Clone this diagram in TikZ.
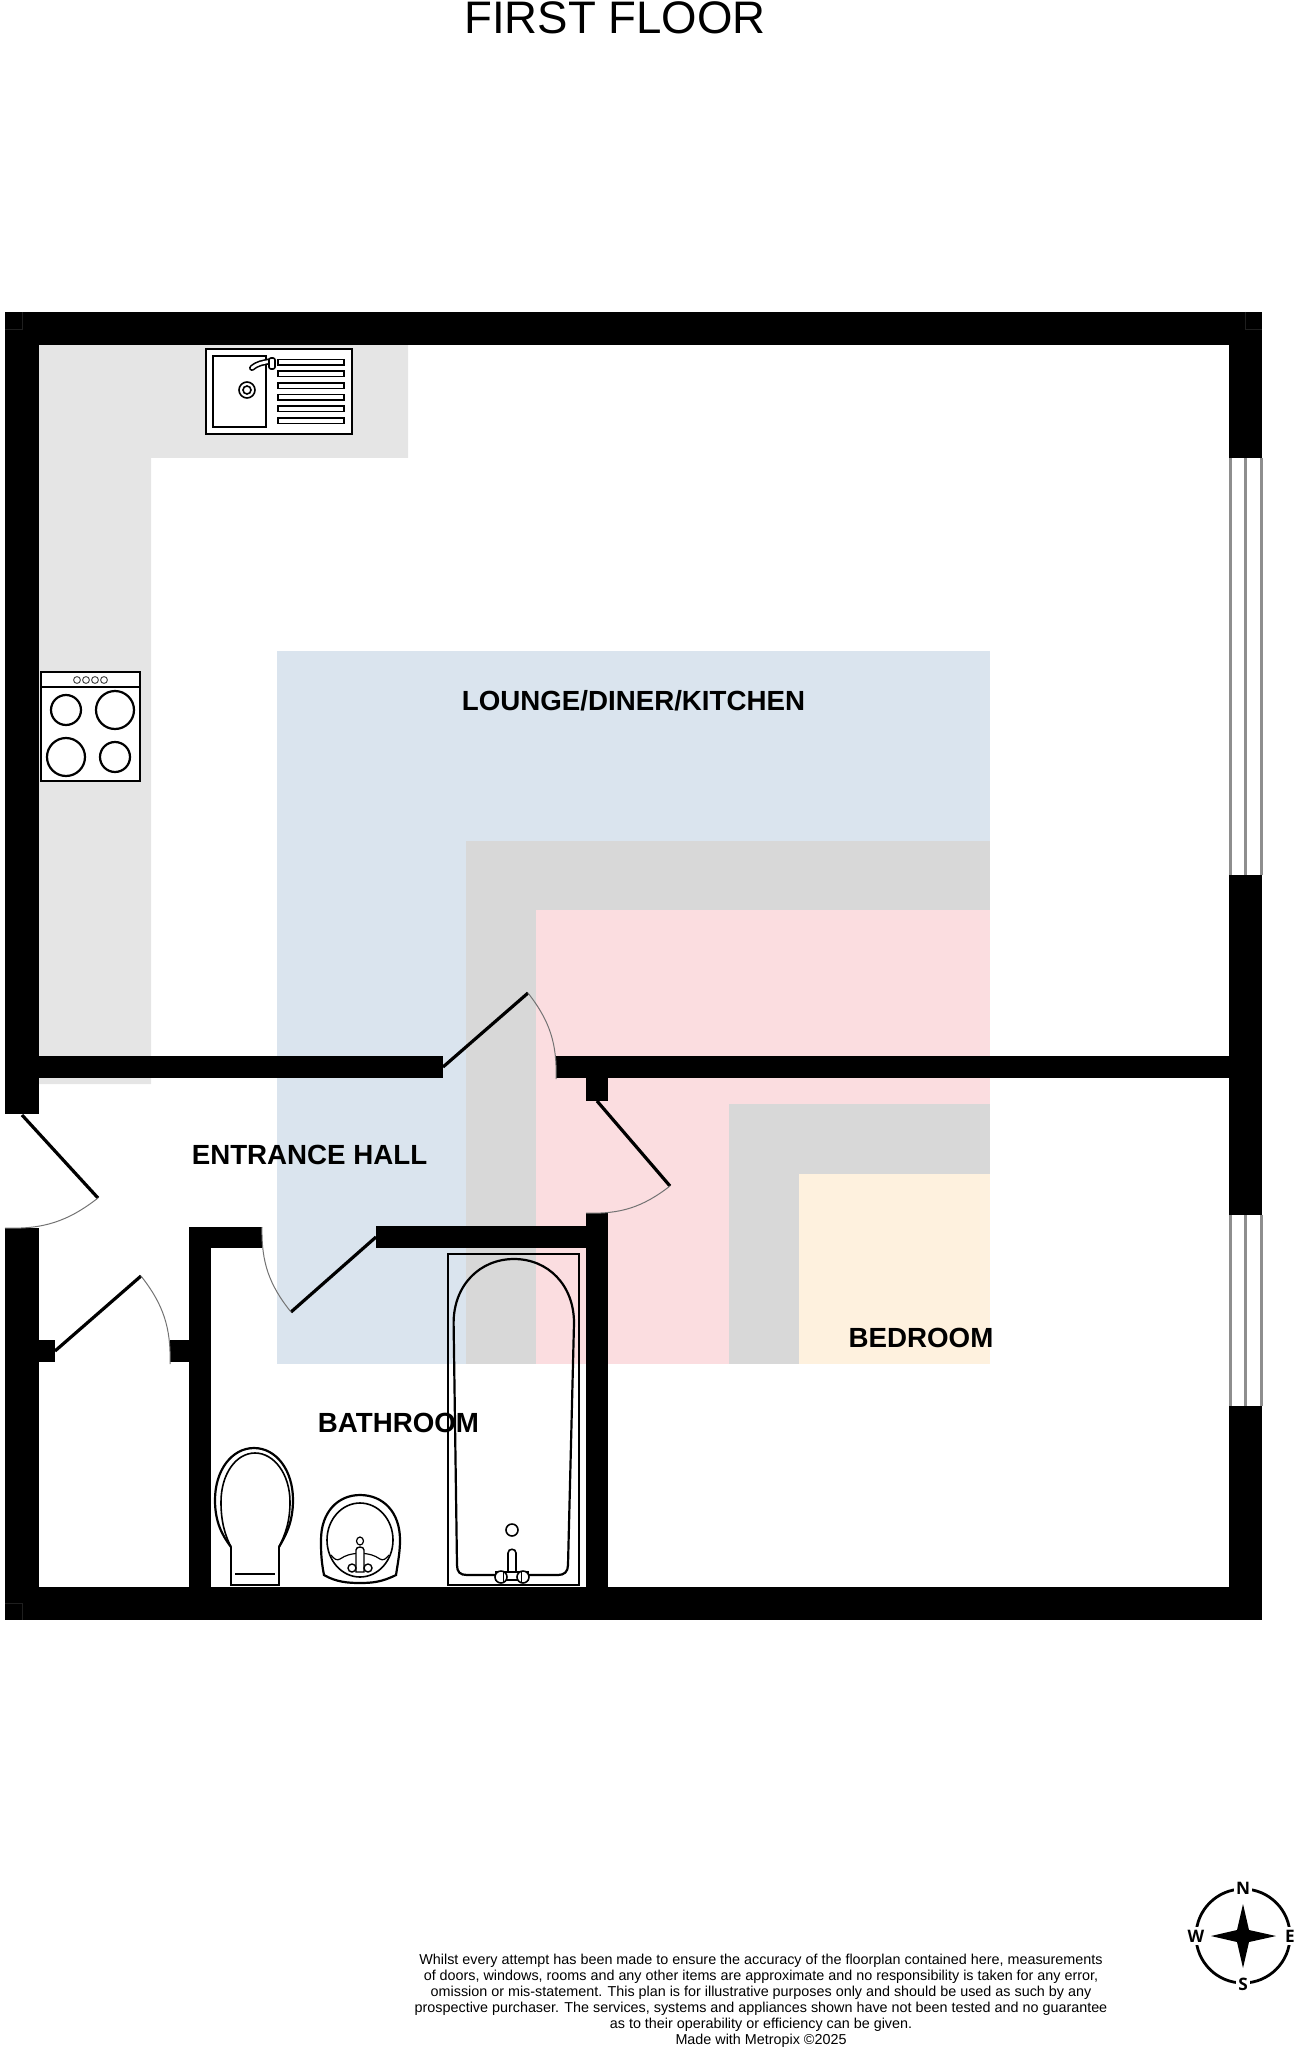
\documentclass[tikz,border=0pt]{standalone}
\usepackage{fontspec}
\setmainfont{Liberation Sans}
\newfontfamily\compassfont{Open Sans}
\definecolor{counter}{HTML}{E5E5E5}
\definecolor{bandblue}{HTML}{DAE4EE}
\definecolor{bandgrey}{HTML}{D8D8D8}
\definecolor{bandpink}{HTML}{FBDDE0}
\definecolor{bandcream}{HTML}{FEF1DE}
\definecolor{glass}{HTML}{8E8E8E}
\tikzset{
  wall/.style={fill=black,draw=none},
  leaf/.style={line width=1.6pt,black},
  swing/.style={line width=0.5pt,color=black!55},
  seam/.style={line width=0.3pt,color=black!88!white},
  fixture/.style={line width=1.1pt,black},
  thinfix/.style={line width=0.8pt,black},
  roomlabel/.style={font=\bfseries\fontsize{13.85}{16}\selectfont,inner sep=0pt,black},
  compassletter/.style={font=\compassfont\bfseries\fontsize{8.6}{10}\selectfont,inner sep=1.2pt,fill=white,text=black}
}
\newcommand{\doorleaf}[4]{%
  \draw[leaf] #1 -- #2;
  \draw[swing] #2 to[bend #4] #3;
}
\begin{document}
\begin{tikzpicture}[x=0.5pt,y=-0.5pt]
\useasboundingbox (0,0) rectangle (1297,2048);
% colour bands
\fill[counter] (39,345) -- (408,345) -- (408,458) -- (151,458) -- (151,1084) -- (39,1084) -- cycle;
\fill[bandblue] (277,651) rectangle (990,1364);
\fill[bandgrey] (466,841) rectangle (990,1364);
\fill[bandpink] (536,910) rectangle (990,1364);
\fill[bandgrey] (729,1104) rectangle (990,1364);
\fill[bandcream] (799,1174) rectangle (990,1364);
% windows
\foreach \wy/\wz in {458/875,1215/1406}{
  \foreach \wx in {1230,1245.5,1261}{
    \draw[glass,line width=1.5pt] (\wx,\wy) -- (\wx,\wz);
  }
}
% walls
\fill[wall] (5,312) rectangle (1262,345);
\fill[wall] (5,1587) rectangle (1262,1620);
\fill[wall] (5,312) rectangle (39,1114);
\fill[wall] (5,1228) rectangle (39,1620);
\fill[wall] (1229,312) rectangle (1262,458);
\fill[wall] (1229,875) rectangle (1262,1215);
\fill[wall] (1229,1406) rectangle (1262,1620);
\fill[wall] (39,1056) rectangle (443,1078);
\fill[wall] (556,1056) rectangle (1229,1078);
\fill[wall] (586,1078) rectangle (608,1101);
\fill[wall] (586,1213) rectangle (608,1620);
\fill[wall] (376,1226) rectangle (586,1248);
\fill[wall] (189,1227) rectangle (262,1248);
\fill[wall] (189,1227) rectangle (211,1620);
\fill[wall] (39,1340) rectangle (55,1362);
\fill[wall] (170,1340) rectangle (189,1362);
\draw[seam] (5,329) -- (22,329) -- (22,312);
\draw[seam] (1245,312) -- (1245,329) -- (1262,329);
\draw[seam] (5,1603) -- (22,1603) -- (22,1620);
% doors
\doorleaf{(22,1115)}{(98,1198)}{(5,1228)}{left=20}
\doorleaf{(55,1351)}{(141,1276)}{(170,1364)}{left=20}
\doorleaf{(376,1237)}{(291,1312)}{(262,1227)}{left=20}
\doorleaf{(443,1067)}{(528,993)}{(556,1079)}{left=20}
\doorleaf{(597,1101)}{(670,1186)}{(586,1213)}{left=20}
% sink unit
\draw[line width=1.35pt,fill=white] (206,349) rectangle (352,434);
\draw[thinfix] (213,356) rectangle (266,427);
\foreach \sy in {362.3,374,385.7,397.3,409,420.7}{
  \draw[line width=0.8pt] (278,\sy-2.7) rectangle (344,\sy+2.7);
}
\draw[thinfix] (247,390) circle[radius=8];
\draw[thinfix] (247,390) circle[radius=4];
\draw[line width=3pt,line cap=round] (252,368) .. controls (258,363) and (262,363) .. (271,361);
\draw[line width=1.4pt,line cap=round,white] (252,368) .. controls (258,363) and (262,363) .. (271,361);
\draw[line width=0.8pt,fill=white,rounded corners=1pt] (269,358) rectangle (275,369);
% hob
\draw[line width=1.35pt,fill=white] (41,672) rectangle (140,781);
\draw[line width=0.6pt] (41,687) -- (140,687);
\foreach \hx in {77,86,95,104}{
  \draw[line width=0.5pt,black!70] (\hx,680) circle[radius=3.4];
}
\draw[fixture] (66,710) circle[radius=15];
\draw[fixture] (115,710) circle[radius=19];
\draw[fixture] (66,757) circle[radius=19];
\draw[fixture] (115,757) circle[radius=15];
% bath
\draw[line width=0.8pt] (448,1254) rectangle (579,1585);
\draw[fixture] (457,1565) -- (453.6,1323) .. controls (453.6,1285) and (480,1259) .. (514,1259) .. controls (548,1259) and (574,1285) .. (574,1323) -- (568,1565) .. controls (568,1572) and (564,1575) .. (558,1575) -- (467,1575) .. controls (460,1575) and (457,1572) .. (457,1565) -- cycle;
\draw[thinfix] (512,1530) circle[radius=6];
\draw[thinfix,fill=white] (508,1576) -- (508,1553) .. controls (508,1548) and (516,1548) .. (516,1553) -- (516,1576) -- cycle;
\draw[thinfix,fill=white] (496,1572) rectangle (528,1580);
\draw[thinfix,fill=white] (501,1577) ellipse[x radius=6,y radius=6];
\draw[thinfix,fill=white] (523,1577) ellipse[x radius=6,y radius=6];
\draw[line width=0.5pt] (503,1572) -- (503,1582);
\draw[line width=0.5pt] (521,1572) -- (521,1582);
% toilet
\draw[fixture] (231,1547) .. controls (222,1535) and (215,1522) .. (215,1500) .. controls (215,1470) and (232,1448) .. (254,1448) .. controls (276,1448) and (293,1470) .. (293,1500) .. controls (293,1522) and (286,1535) .. (279,1547);
\draw[thinfix] (231,1547) .. controls (225,1535) and (221,1522) .. (221,1502) .. controls (221,1474) and (236,1453) .. (255,1453) .. controls (274,1453) and (290,1474) .. (290,1502) .. controls (290,1522) and (285,1535) .. (279,1547);
\draw[thinfix] (231,1547) -- (231,1585) -- (279,1585) -- (279,1547);
\draw[thinfix] (235,1574) -- (275,1574);
% basin
\draw[fixture] (324,1575) .. controls (321,1560) and (321,1550) .. (321,1540) .. controls (321,1512) and (338,1495) .. (360,1495) .. controls (383,1495) and (400,1512) .. (400,1540) .. controls (400,1552) and (398,1562) .. (396,1575) .. controls (382,1582) and (372,1583) .. (360,1583) .. controls (348,1583) and (336,1582) .. (324,1575) -- cycle;
\draw[thinfix] (360,1540) ellipse[x radius=33,y radius=37];
\draw[line width=0.6pt] (331,1555) .. controls (334,1559) and (337,1561) .. (340,1559) .. controls (346,1555) and (350,1554) .. (360,1553) .. controls (370,1554) and (374,1555) .. (380,1559) .. controls (383,1561) and (386,1559) .. (389,1555);
\draw[line width=0.6pt] (360,1541) ellipse[x radius=3.5,y radius=4];
\draw[line width=0.7pt,fill=white] (356,1572) -- (356,1550) .. controls (356,1546) and (364,1546) .. (364,1550) -- (364,1572) -- cycle;
\draw[line width=0.7pt,fill=white] (352,1568) ellipse[x radius=4,y radius=4];
\draw[line width=0.7pt,fill=white] (368,1568) ellipse[x radius=4,y radius=4];
% labels
\node[inner sep=0pt,font=\fontsize{22.8}{26}\selectfont] (title) at (615,18) {FIRST FLOOR};
\node[roomlabel] (lounge) at (633.5,701) {LOUNGE/DINER/KITCHEN};
\node[roomlabel] (hall) at (309.5,1155) {ENTRANCE HALL};
\node[roomlabel] (bathroom) at (398.5,1423) {BATHROOM};
\node[roomlabel] (bedroom) at (921,1338) {BEDROOM};
\node[align=center,inner sep=0pt,font=\fontsize{7.18}{8}\selectfont] (legal) at (761,2000.5) {Whilst every attempt has been made to ensure the accuracy of the floorplan contained here, measurements\\of doors, windows, rooms and any other items are approximate and no responsibility is taken for any error,\\omission or mis-statement. This plan is for illustrative purposes only and should be used as such by any\\prospective purchaser. The services, systems and appliances shown have not been tested and no guarantee\\as to their operability or efficiency can be given.\\Made with Metropix ©2025};
% compass
\coordinate (cc) at (1243,1936);
\draw[line width=1.4pt] (cc) circle[radius=47];
\fill (1243,1904) -- (1249,1930) -- (1276,1936) -- (1249,1942) -- (1243,1968) -- (1237,1942) -- (1211,1936) -- (1237,1930) -- cycle;
\node[compassletter] (compN) at (1243,1888) {N};
\node[compassletter] (compS) at (1243,1984) {S};
\node[compassletter] (compW) at (1196,1936) {W};
\node[compassletter] (compE) at (1290,1936) {E};
\end{tikzpicture}
\end{document}
